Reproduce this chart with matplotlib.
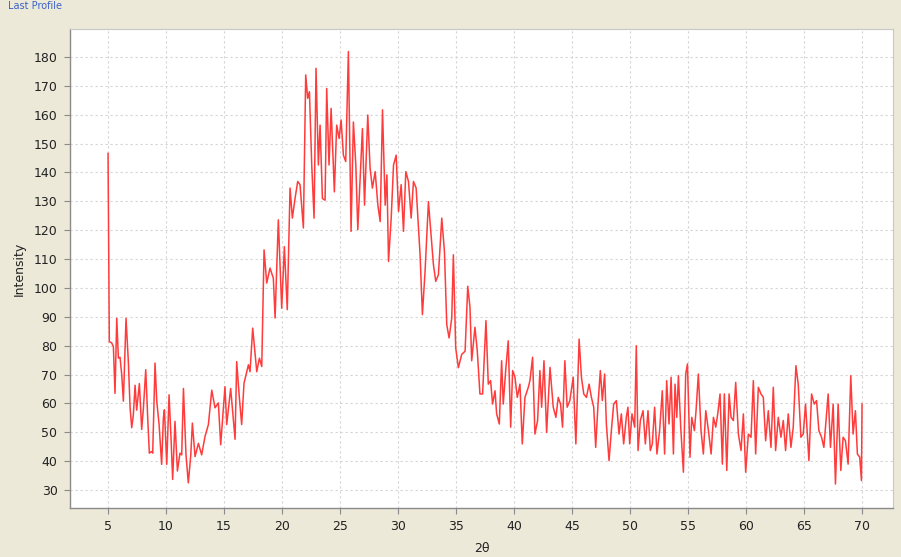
import matplotlib.pyplot as plt

# 2-theta positions and intensities
TWO_THETA = [
    5.00, 5.11, 5.31, 5.46, 5.60, 5.75, 5.89, 6.03, 6.18, 6.32,
    6.55, 6.75, 6.90, 7.04, 7.18, 7.33, 7.47, 7.70, 7.90, 8.05,
    8.25, 8.42, 8.56, 8.76, 8.85, 9.05, 9.20, 9.40, 9.62, 9.77,
    9.86, 10.06, 10.26, 10.43, 10.57, 10.77, 10.98, 11.20, 11.35, 11.50,
    11.72, 11.92, 12.13, 12.27, 12.50, 12.79, 13.07, 13.36, 13.65, 13.94,
    14.22, 14.51, 14.71, 15.08, 15.23, 15.57, 15.95, 16.09, 16.32, 16.52,
    16.72, 17.10, 17.24, 17.47, 17.82, 18.05, 18.25, 18.45, 18.68, 18.96,
    19.25, 19.40, 19.68, 19.97, 20.20, 20.45,
    20.69, 20.89, 21.12, 21.35, 21.55, 21.84, 22.04, 22.21, 22.36, 22.56,
    22.76, 22.93, 23.13, 23.28, 23.48, 23.71, 23.85, 24.05, 24.23, 24.51,
    24.71, 24.92, 25.09, 25.29, 25.49, 25.72, 25.95, 26.15, 26.36, 26.53,
    26.73, 26.93, 27.11, 27.39, 27.59, 27.79, 28.03, 28.26, 28.46, 28.66,
    28.89, 29.04, 29.18, 29.41, 29.61, 29.84, 30.04, 30.27, 30.47, 30.67,
    30.90, 31.13, 31.33, 31.56, 31.76, 31.90, 32.10, 32.33, 32.62, 32.82,
    33.05, 33.25, 33.48, 33.77, 34.00, 34.20, 34.40, 34.63, 34.77, 34.97,
    35.20, 35.49, 35.78, 36.01,
    36.20, 36.35, 36.63, 36.83, 37.06, 37.29, 37.58, 37.78, 37.98, 38.15,
    38.36, 38.50, 38.73, 38.93, 39.07, 39.30, 39.50, 39.71, 39.88, 40.08,
    40.28, 40.51, 40.71, 40.94, 41.23, 41.37, 41.60, 41.80, 42.03, 42.23,
    42.38, 42.58, 42.81, 43.10, 43.38, 43.61, 43.81, 44.01, 44.18, 44.38,
    44.58, 44.81, 45.10, 45.33, 45.61, 45.81, 46.01, 46.24, 46.47, 46.67,
    46.87, 47.04, 47.24, 47.44, 47.61, 47.81, 47.96, 48.19, 48.39, 48.59,
    48.82, 49.05, 49.25, 49.45, 49.68, 49.82, 49.97, 50.17, 50.40, 50.54,
    50.69, 50.89, 51.12, 51.32, 51.55, 51.75, 51.92, 52.12, 52.32, 52.55,
    52.78, 52.98,
    53.16, 53.36, 53.54, 53.74, 53.88, 54.03, 54.17, 54.37, 54.60, 54.80,
    54.95, 55.17, 55.32, 55.55, 55.69, 55.89, 56.12, 56.32, 56.53, 56.76,
    56.99, 57.19, 57.39, 57.56, 57.76, 57.96, 58.13, 58.34, 58.54, 58.71,
    58.91, 59.11, 59.34, 59.57, 59.77, 59.97, 60.20, 60.43, 60.63, 60.83,
    61.06, 61.29, 61.49, 61.69, 61.92, 62.15, 62.35, 62.55, 62.78, 63.01,
    63.21, 63.41, 63.64, 63.87, 64.07, 64.30, 64.50, 64.73, 64.93, 65.13,
    65.42, 65.65, 65.88, 66.08, 66.28, 66.51, 66.71, 66.94, 67.08, 67.28,
    67.51, 67.71, 67.94, 68.17, 68.37, 68.57, 68.80, 69.03, 69.23, 69.43,
    69.60, 69.80, 69.95, 70.00,
]

INTENSITY = [
    146.6, 81.4, 81.0, 79.7, 63.5, 89.5, 75.7, 76.0, 70.0, 60.8,
    89.5, 74.5, 58.5, 51.6, 56.0, 66.3, 57.7, 66.9, 51.0, 58.5,
    71.7, 54.9, 42.8, 43.4, 42.8, 74.0, 60.8, 52.7, 38.9, 55.0,
    57.8, 38.9, 63.0, 48.0, 33.7, 53.8, 36.6, 42.8, 42.2, 65.2,
    42.2, 32.5, 42.0, 53.2, 41.6, 46.2, 42.2, 48.6, 52.7, 64.6,
    58.5, 60.2, 45.7, 65.8, 52.7, 65.2, 47.6, 74.5, 62.0, 52.7,
    67.0, 73.4, 71.0, 86.1, 71.0, 75.7, 72.8, 113.2, 101.7, 106.9,
    103.4, 89.6, 123.6, 93.0, 114.3, 92.5,
    134.6, 124.2, 131.0, 136.9, 135.8, 120.8, 173.8, 165.7, 168.0, 142.6,
    124.2, 176.1, 142.6, 156.4, 131.0, 130.4, 169.1, 142.6, 162.2, 133.3,
    156.4, 151.8, 158.2, 146.0, 143.8, 181.9, 119.6, 157.5, 142.6, 120.2,
    138.1, 155.2, 128.7, 159.9, 141.5, 134.6, 140.3, 128.7, 123.0, 161.7,
    128.7, 139.2, 109.2, 124.2, 142.6, 146.0, 126.5, 135.8, 119.6, 140.3,
    136.9, 124.2, 136.9, 134.6, 120.8, 111.5, 90.8, 105.8, 129.9, 119.6,
    108.1, 102.3, 104.6, 124.2, 112.7, 87.3, 82.7, 89.6, 111.5, 79.3,
    72.4, 77.0, 78.1, 100.6,
    93.3, 74.8, 86.4, 78.3, 63.3, 63.3, 88.7, 66.7, 67.9, 59.8,
    64.4, 56.4, 52.9, 74.8, 59.8, 72.5, 81.7, 51.8, 71.4, 69.1,
    62.1, 66.7, 46.0, 62.1, 65.6, 67.9, 76.0, 49.4, 54.1, 71.4,
    58.7, 74.8, 50.0, 72.5, 58.7, 55.2, 62.1, 59.8, 51.8, 74.8,
    58.7, 61.0, 69.1, 46.0, 82.3, 69.1, 63.3, 62.1, 66.7, 62.1,
    58.7, 44.8, 59.8, 71.4, 61.0, 70.2, 52.9, 40.2, 50.6, 59.8,
    61.0, 49.4, 56.4, 46.0, 55.2, 58.7, 46.0, 56.4, 51.8, 80.0,
    43.7, 54.1, 57.5, 46.0, 57.5, 43.7, 46.0, 58.7, 42.5, 50.6,
    64.4, 42.5,
    67.9, 52.9, 69.1, 42.5, 66.7, 55.2, 69.6, 51.8, 36.2, 70.2,
    73.7, 41.4, 55.2, 50.6, 57.5, 70.2, 50.6, 42.5, 57.5, 50.6,
    42.5, 55.2, 51.8, 56.4, 63.3, 39.0, 63.3, 36.8, 63.3, 55.2,
    54.1, 67.3, 49.4, 43.7, 56.4, 36.2, 49.4, 48.3, 67.9, 42.5,
    65.6, 63.3, 62.1, 47.1, 57.5, 44.8, 65.6, 43.7, 55.2, 48.3,
    54.1, 43.7, 56.4, 44.8, 51.8, 73.1, 66.7, 48.3, 49.4, 59.8,
    40.2, 63.3, 59.8, 61.0, 50.6, 48.3, 44.8, 56.4, 63.3, 44.8,
    59.8, 32.1, 59.8, 36.8, 48.3, 47.1, 39.0, 69.6, 49.4, 57.5,
    42.5, 41.4, 33.3, 59.8,
]

X_TICKS = list(range(5, 71, 5))
Y_TICKS = list(range(30, 181, 10))

BG = "#ECE9D8"
LINE = "#FF3B3B"
GRID = "#D4D4D4"
SPINE = "#8A8A8A"

fig = plt.figure(figsize=(9.01, 5.57), dpi=100, facecolor=BG)
ax = fig.add_axes([70 / 901, 1 - 508 / 557, (893 - 70) / 901, (508 - 29) / 557])
ax.set_facecolor("white")

ax.plot(TWO_THETA, INTENSITY, color=LINE, lw=1.1)

ax.set_xlim(1.72, 72.67)
ax.set_ylim(23.8, 189.7)
ax.set_xticks(X_TICKS)
ax.set_yticks(Y_TICKS)
ax.grid(True, color=GRID, linestyle=(0, (2, 2.5)), linewidth=0.8)
ax.set_axisbelow(True)

ax.tick_params(axis="both", direction="out", length=4, width=0.8,
               color=SPINE, labelsize=9, labelcolor="#222222", pad=5)
for side in ("left", "bottom"):
    ax.spines[side].set_color(SPINE)
    ax.spines[side].set_linewidth(1.0)
for side in ("top", "right"):
    ax.spines[side].set_color("#C8C8C8")
    ax.spines[side].set_linewidth(0.8)

ax.set_xlabel("2θ", fontsize=9, color="#222222", labelpad=6)
ax.set_ylabel("Intensity", fontsize=9, color="#222222", labelpad=6)

# window title in the top-left corner
fig.text(8 / 901, 1 - 1 / 557, "Last Profile", color="#3A62C8", fontsize=7,
         ha="left", va="top")

fig.savefig("out.png", dpi=100, facecolor=BG)
